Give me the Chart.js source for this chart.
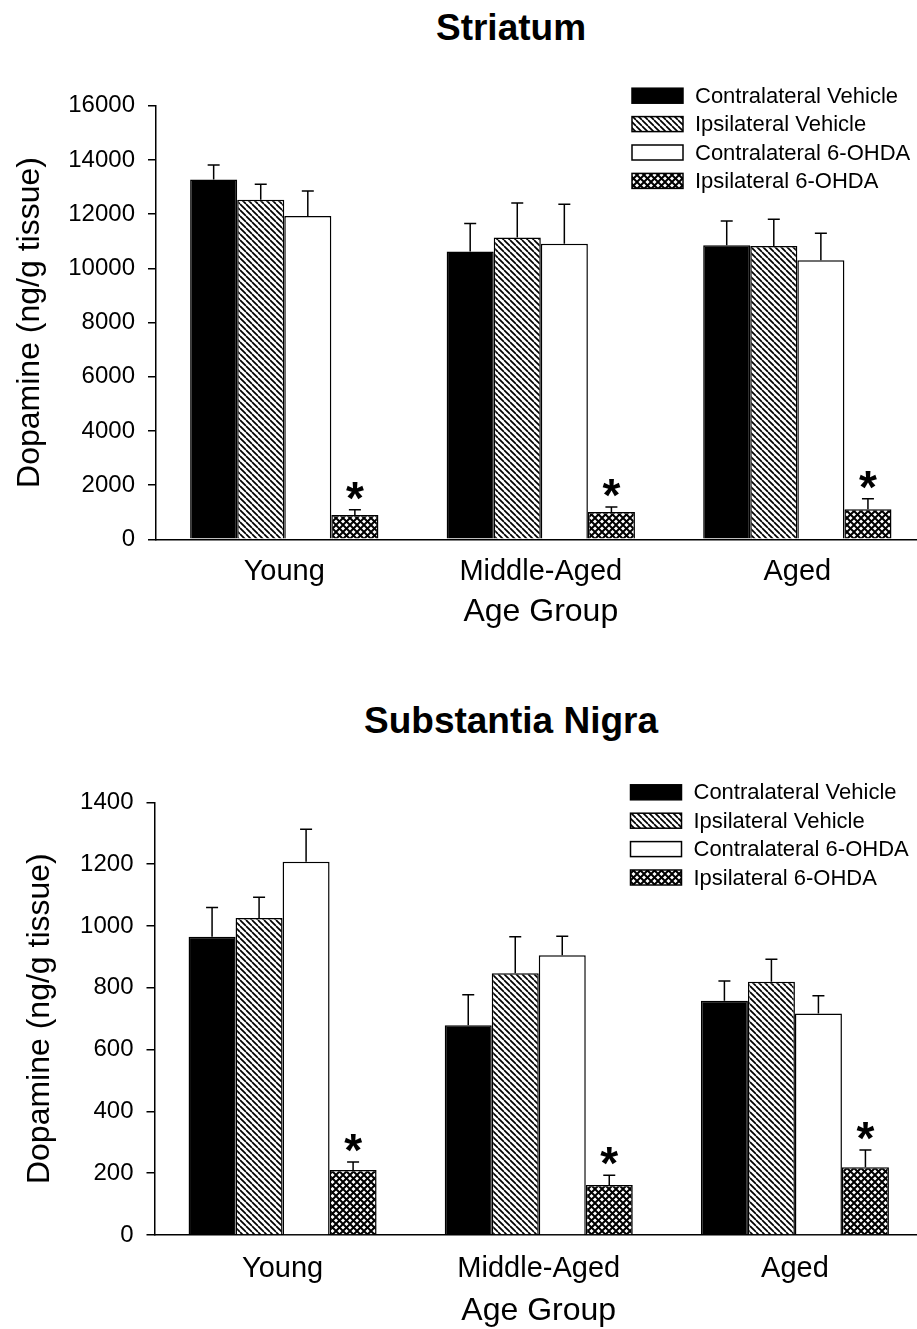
<!DOCTYPE html>
<html>
<head>
<meta charset="utf-8">
<script src="https://cdn.jsdelivr.net/npm/chart.js@4.4.1/dist/chart.umd.min.js"></script>
<style>
  body { margin: 0; background: #fff; width: 917px; height: 1329px; overflow: hidden; position: relative;
         font-family: "Liberation Sans", Arial, sans-serif; }
  .title { position: absolute; left: 261px; width: 500px; text-align: center; font-weight: bold;
           font-size: 37px; line-height: 1; color: #000; }
  .panel { position: absolute; left: 0; }
</style>
</head>
<body>
<div class="title" style="top:9px">Striatum</div>
<div class="panel" style="top:0"><canvas id="striatum" width="930" height="650"></canvas></div>
<div class="title" style="top:702px">Substantia Nigra</div>
<div class="panel" style="top:650px"><canvas id="nigra" width="930" height="682"></canvas></div>
<script>
const ageGroups = ['Young', 'Middle-Aged', 'Aged'];
const seriesNames = ['Contralateral Vehicle', 'Ipsilateral Vehicle', 'Contralateral 6-OHDA', 'Ipsilateral 6-OHDA'];

// Striatum, dopamine (ng/g tissue), mean and SEM per age group
const striContraVeh = [13280, 10620, 10850];
const striIpsiVeh = [12530, 11140, 10820];
const striContraOhda = [11930, 10910, 10300];
const striIpsiOhda = [895, 1005, 1105];
const striContraVehErr = [530, 1030, 900];
const striIpsiVehErr = [570, 1270, 990];
const striContraOhdaErr = [920, 1450, 990];
const striIpsiOhdaErr = [195, 185, 390];
const striTicks = [0, 2000, 4000, 6000, 8000, 10000, 12000, 14000, 16000];

// Substantia nigra
const nigraContraVeh = [965, 679, 758];
const nigraIpsiVeh = [1026, 847, 819];
const nigraContraOhda = [1208, 905, 717];
const nigraIpsiOhda = [210, 162, 219];
const nigraContraVehErr = [95, 98, 64];
const nigraIpsiVehErr = [67, 118, 73];
const nigraContraOhdaErr = [105, 62, 57];
const nigraIpsiOhdaErr = [26, 31, 56];
const nigraTicks = [0, 200, 400, 600, 800, 1000, 1200, 1400];

// significance marks (*) only on the ipsilateral 6-OHDA series
const starSeries = 3;

const FONT = '"Liberation Sans", Arial, sans-serif';

// fill patterns
function hatchPattern() {
  const s = 6;
  const c = document.createElement('canvas');
  c.width = s; c.height = s;
  const g = c.getContext('2d');
  g.fillStyle = '#fff';
  g.fillRect(0, 0, s, s);
  g.strokeStyle = '#000';
  g.lineWidth = 1.7;
  for (let k = -1; k <= 1; k++) {
    g.beginPath();
    g.moveTo(k * s, 0);
    g.lineTo(k * s + s, s);
    g.stroke();
  }
  return g.createPattern(c, 'repeat');
}

function crossPattern() {
  const s = 7;
  const c = document.createElement('canvas');
  c.width = s; c.height = s;
  const g = c.getContext('2d');
  g.fillStyle = '#fff';
  g.fillRect(0, 0, s, s);
  g.strokeStyle = '#000';
  g.lineWidth = 2;
  for (let k = -1; k <= 1; k++) {
    g.beginPath();
    g.moveTo(k * s, 0);
    g.lineTo(k * s + s, s);
    g.moveTo(k * s + s, 0);
    g.lineTo(k * s, s);
    g.stroke();
  }
  return g.createPattern(c, 'repeat');
}

const fills = ['#000', hatchPattern(), '#fff', crossPattern()];

// error bars (upper only) and asterisks
const errorBars = {
  id: 'errorBars',
  afterDatasetsDraw(chart) {
    const ctx = chart.ctx;
    const y = chart.scales.y;
    ctx.save();
    ctx.strokeStyle = '#000';
    ctx.lineWidth = 1.5;
    chart.data.datasets.forEach((ds, i) => {
      const meta = chart.getDatasetMeta(i);
      meta.data.forEach((bar, j) => {
        const top = y.getPixelForValue(ds.data[j] + ds.errors[j]);
        ctx.beginPath();
        ctx.moveTo(bar.x, bar.y);
        ctx.lineTo(bar.x, top);
        ctx.moveTo(bar.x - 6, top);
        ctx.lineTo(bar.x + 6, top);
        ctx.stroke();
        if (i === starSeries) {
          ctx.font = 'bold 46px ' + FONT;
          ctx.fillStyle = '#000';
          ctx.textAlign = 'center';
          ctx.textBaseline = 'alphabetic';
          const m = ctx.measureText('*');
          const mid = (m.actualBoundingBoxAscent - m.actualBoundingBoxDescent) / 2;
          ctx.fillText('*', bar.x, top - 19 + mid);
        }
      });
    });
    ctx.restore();
  }
};

// legend drawn inside the plot area, top right
const boxLegend = {
  id: 'boxLegend',
  afterDraw(chart) {
    const ctx = chart.ctx;
    const a = chart.chartArea;
    const x0 = a.left + 476;
    const y0 = a.top - 10;
    ctx.save();
    ctx.font = '22px ' + FONT;
    ctx.textBaseline = 'middle';
    ctx.textAlign = 'left';
    chart.data.datasets.forEach((ds, i) => {
      const cy = y0 + i * 28.4;
      ctx.fillStyle = ds.backgroundColor;
      ctx.fillRect(x0, cy - 7.5, 51, 15);
      ctx.strokeStyle = '#000';
      ctx.lineWidth = 1.5;
      ctx.strokeRect(x0, cy - 7.5, 51, 15);
      ctx.fillStyle = '#000';
      ctx.fillText(ds.label, x0 + 63, cy + 1);
    });
    ctx.restore();
  }
};

function makeChart(id, series, errors, ticks, g) {
  new Chart(document.getElementById(id), {
    type: 'bar',
    data: {
      labels: ageGroups,
      datasets: series.map((vals, i) => ({
        label: seriesNames[i],
        data: vals,
        errors: errors[i],
        backgroundColor: fills[i],
        borderColor: '#000',
        borderWidth: 1.5,
        borderSkipped: 'bottom',
        categoryPercentage: 0.734,
        barPercentage: 1.0
      }))
    },
    options: {
      responsive: false,
      animation: false,
      devicePixelRatio: 1,
      layout: { padding: { top: g.top, right: g.right, bottom: g.bottom, left: 0 } },
      plugins: { legend: { display: false }, tooltip: { enabled: false } },
      scales: {
        x: {
          grid: { display: false, drawTicks: false },
          border: { display: true, color: '#000', width: 1.5 },
          ticks: { color: '#000', font: { family: FONT, size: 29 }, padding: g.xPad },
          title: { display: true, text: 'Age Group', color: '#000', font: { family: FONT, size: 32 }, padding: 0 },
          afterFit: (s) => { s.height = g.xHeight; }
        },
        y: {
          min: ticks[0],
          max: ticks[ticks.length - 1],
          afterBuildTicks: (s) => { s.ticks = ticks.map(v => ({ value: v })); },
          grid: { drawOnChartArea: false, drawTicks: true, tickLength: 8, color: '#000', lineWidth: 1.5 },
          border: { display: true, color: '#000', width: 1.5 },
          ticks: { color: '#000', font: { family: FONT, size: 24 }, padding: 13, callback: (v) => String(v) },
          title: { display: true, text: 'Dopamine (ng/g tissue)', color: '#000', font: { family: FONT, size: 32 }, padding: { top: g.yTitle, bottom: 0 } },
          afterFit: (s) => { s.width = g.left; }
        }
      }
    },
    plugins: [errorBars, boxLegend]
  });
}

makeChart('striatum',
  [striContraVeh, striIpsiVeh, striContraOhda, striIpsiOhda],
  [striContraVehErr, striIpsiVehErr, striContraOhdaErr, striIpsiOhdaErr],
  striTicks,
  { top: 105.7, right: 4.4, bottom: 19.1, left: 156, xHeight: 91.6, xPad: 15, yTitle: 10.8 });

makeChart('nigra',
  [nigraContraVeh, nigraIpsiVeh, nigraContraOhda, nigraIpsiOhda],
  [nigraContraVehErr, nigraIpsiVehErr, nigraContraOhdaErr, nigraIpsiOhdaErr],
  nigraTicks,
  { top: 152.3, right: 7, bottom: 1.3, left: 154.5, xHeight: 95.7, xPad: 16.6, yTitle: 20.8 });
</script>
</body>
</html>
